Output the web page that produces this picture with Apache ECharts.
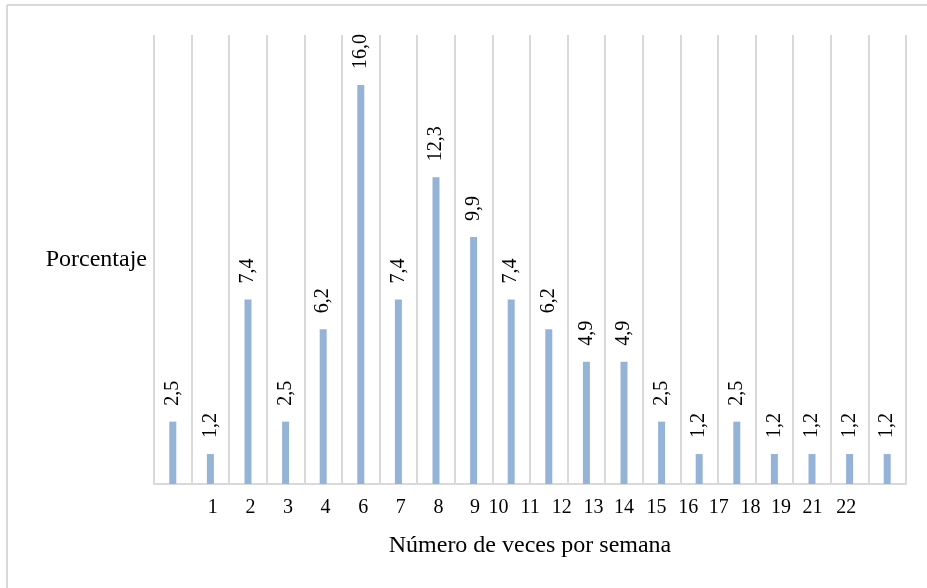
<!DOCTYPE html>
<html>
<head>
<meta charset="utf-8">
<script src="https://cdn.jsdelivr.net/npm/echarts@6/dist/echarts.min.js"></script>
<style>
  html, body { margin: 0; padding: 0; background: #fff; }
  #chart { width: 927px; height: 588px; }
</style>
</head>
<body>
<div id="chart"></div>
<script>
// Weekly frequency categories and their share (%)
const categories = ['1', '2', '3', '4', '6', '7', '8', '9', '10', '11', '12', '13', '14', '15', '16', '17', '18', '19', '21', '22'];
const percentages = [2.5, 1.2, 7.4, 2.5, 6.2, 16.0, 7.4, 12.3, 9.9, 7.4, 6.2, 4.9, 4.9, 2.5, 1.2, 2.5, 1.2, 1.2, 1.2, 1.2];
const xTitle = 'Número de veces por semana';
const yTitle = 'Porcentaje';

// Horizontal nudge (px) of each category label relative to its bar
const labelShift = [40, 40, 40, 40, 40, 40, 40, 39, 25, 19, 13, 7, 0, -5, -11, -18, -24, -31, -37, -41];

const serif = "'Liberation Serif', 'Times New Roman', serif";
const gridGray = '#d9d9d9';

const rich = {};
labelShift.forEach((d, i) => {
  rich['s' + i] = {
    fontFamily: serif,
    fontSize: 20,
    color: '#000',
    padding: d >= 0 ? [0, 0, 0, 2 * d] : [0, -2 * d, 0, 0]
  };
});

const chart = echarts.init(document.getElementById('chart'), null, { renderer: 'canvas' });

chart.setOption({
  animation: false,
  backgroundColor: '#fff',
  textStyle: { fontFamily: serif },
  grid: { left: 154, right: 21, top: 35, bottom: 104, containLabel: false },
  graphic: [
    { type: 'line', shape: { x1: 7, y1: 5, x2: 927, y2: 5 }, style: { stroke: gridGray, lineWidth: 2 } },
    { type: 'line', shape: { x1: 7, y1: 5, x2: 7, y2: 588 }, style: { stroke: gridGray, lineWidth: 2 } }
  ],
  xAxis: {
    type: 'category',
    data: categories,
    boundaryGap: true,
    axisLine: { show: true, lineStyle: { color: gridGray, width: 2 } },
    axisTick: { show: false },
    splitLine: { show: true, lineStyle: { color: gridGray, width: 2 } },
    axisLabel: {
      interval: 0,
      hideOverlap: false,
      margin: 14,
      formatter: (val, idx) => '{s' + idx + '|' + val + '}',
      rich: rich
    },
    name: xTitle,
    nameLocation: 'middle',
    nameGap: 50,
    nameTextStyle: { fontFamily: serif, fontSize: 24, color: '#000' }
  },
  yAxis: {
    type: 'value',
    min: 0,
    max: 18,
    axisLine: { show: false },
    axisTick: { show: false },
    axisLabel: { show: false },
    splitLine: { show: false },
    name: yTitle,
    nameLocation: 'middle',
    nameRotate: 0,
    nameGap: 7,
    nameTextStyle: { fontFamily: serif, fontSize: 24, color: '#000', align: 'right', verticalAlign: 'middle' }
  },
  series: [{
    type: 'bar',
    data: percentages,
    barWidth: 7,
    itemStyle: { color: '#95B3D7' },
    label: {
      show: true,
      position: 'top',
      rotate: 90,
      align: 'left',
      verticalAlign: 'middle',
      distance: 16,
      fontFamily: serif,
      fontSize: 20,
      color: '#000',
      formatter: p => p.value.toFixed(1).replace('.', ',')
    }
  }]
});
</script>
</body>
</html>
